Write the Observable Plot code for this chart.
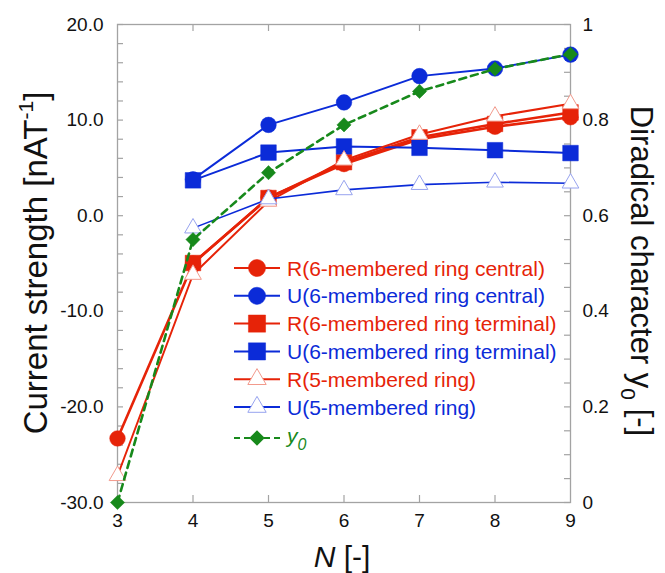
<!DOCTYPE html>
<html><head><meta charset="utf-8">
<script src="https://cdn.jsdelivr.net/npm/d3@7"></script>
<script src="https://cdn.jsdelivr.net/npm/@observablehq/plot@0.6"></script>
<style>body{margin:0;background:#fff}</style>
</head><body><div id="chart"></div>
<script>
// ---- data ----
const N = [3, 4, 5, 6, 7, 8, 9];
const R6central  = [-23.3, -5.0, 1.9, 5.4, 8.0, 9.3, 10.3];
const U6central  = [null, 3.8, 9.5, 11.85, 14.6, 15.4, 16.85];
const R6terminal = [null, -4.95, 1.85, 5.6, 8.2, 9.6, 10.8];
const U6terminal = [null, 3.7, 6.6, 7.25, 7.1, 6.85, 6.55];
const R5ring     = [-27.2, -6.15, 1.5, 5.8, 8.5, 10.4, 11.7];
const U5ring     = [null, -1.3, 1.75, 2.7, 3.25, 3.5, 3.4];
const y0values   = [0.0, 0.55, 0.69, 0.79, 0.86, 0.907, 0.938];
const leftTicks  = [-30, -20, -10, 0, 10, 20];
const rightTicks = [0, 0.2, 0.4, 0.6, 0.8, 1];
const xTicks     = [3, 4, 5, 6, 7, 8, 9];
const seriesNames = ["R(6-membered ring central)", "U(6-membered ring central)",
  "R(6-membered ring terminal)", "U(6-membered ring terminal)",
  "R(5-membered ring)", "U(5-membered ring)"];

// ---- style ----
const RED = "#e62308", BLUE = "#0b2bd8", GREEN = "#17891b";
const LRED = "#f29a8c", LBLUE = "#97a3ef", GRAY = "#a3a3a3";
const Y_MIN = -30, Y_MAX = 20;
const toLeft = v => Y_MIN + (Y_MAX - Y_MIN) * v;

const styles = [
  {values: R6central,  color: RED,  symbol: "circle",   r: 7.8, fill: RED,  mstroke: RED,  msw: 0.5, lw: 2.6},
  {values: U6central,  color: BLUE, symbol: "circle",   r: 7.8, fill: BLUE, mstroke: BLUE, msw: 0.5, lw: 2},
  {values: R6terminal, color: RED,  symbol: "square",   r: 8.8, fill: RED,  mstroke: RED,  msw: 0.5, lw: 2.6},
  {values: U6terminal, color: BLUE, symbol: "square",   r: 8.8, fill: BLUE, mstroke: BLUE, msw: 0.5, lw: 2},
  {values: R5ring,     color: RED,  symbol: "triangle", r: 6.2, fill: "white", mstroke: LRED,  msw: 1, lw: 2},
  {values: U5ring,     color: BLUE, symbol: "triangle", r: 6.2, fill: "white", mstroke: LBLUE, msw: 1, lw: 1.6}
];

const rowsOf = vals => N.map((n, i) => ({N: n, v: vals[i]})).filter(d => d.v != null);
const y0rows = N.map((n, i) => ({N: n, v: toLeft(y0values[i])}));

const W = 665, H = 573, ML = 117, MR = 95, MT = 24, MB = 71;
const PW = W - ML - MR, PH = H - MT - MB;
const TICKFONT = 19;

const marks = [
  Plot.frame({stroke: GRAY, strokeWidth: 1.3}),
  // inward ticks
  Plot.tickY(d3.range(-30, 20.01, 2), {stroke: GRAY, strokeWidth: 1.2, insetRight: PW - 6}),
  Plot.tickY(d3.range(-30, 20.01, 2.5), {stroke: GRAY, strokeWidth: 1.2, insetLeft: PW - 6}),
  Plot.tickX(xTicks.slice(1, -1), {stroke: GRAY, strokeWidth: 1.2, insetBottom: PH - 7}),
  Plot.tickX(xTicks.slice(1, -1), {stroke: GRAY, strokeWidth: 1.2, insetTop: PH - 7}),
  // tick labels
  Plot.text(leftTicks, {y: d => d, text: d => d.toFixed(1), frameAnchor: "left", dx: -14,
    textAnchor: "end", fontSize: TICKFONT, fill: "#111"}),
  Plot.text(rightTicks, {y: d => toLeft(d), text: d => String(d), frameAnchor: "right", dx: 12,
    textAnchor: "start", fontSize: TICKFONT, fill: "#111"}),
  Plot.text(xTicks, {x: d => d, text: d => String(d), frameAnchor: "bottom", dy: 11,
    lineAnchor: "top", fontSize: TICKFONT, fill: "#111"})
];
for (const s of styles) {
  const rows = rowsOf(s.values);
  marks.push(Plot.line(rows, {x: "N", y: "v", stroke: s.color, strokeWidth: s.lw}));
  marks.push(Plot.dot(rows, {x: "N", y: "v", symbol: s.symbol, r: s.r, fill: s.fill, stroke: s.mstroke, strokeWidth: s.msw}));
}
marks.push(Plot.line(y0rows, {x: "N", y: "v", stroke: GREEN, strokeWidth: 2.6, strokeDasharray: "7,5"}));
marks.push(Plot.dot(y0rows, {x: "N", y: "v", symbol: "diamond2", r: 6.4, fill: GREEN, stroke: GREEN, strokeWidth: 0.5}));

const svg = Plot.plot({
  width: W, height: H, marginLeft: ML, marginRight: MR, marginTop: MT, marginBottom: MB,
  x: {domain: [3, 9], axis: null},
  y: {domain: [Y_MIN, Y_MAX], axis: null},
  style: {fontFamily: "'Liberation Sans', Arial, Helvetica, sans-serif", color: "#111", background: "white", overflow: "visible"},
  marks
});
document.getElementById("chart").appendChild(svg);

// ---- axis titles ----
const sel = d3.select(svg);
const FONT = "'Liberation Sans', Arial, Helvetica, sans-serif";
const lt = sel.append("text").attr("transform", "translate(47,263) rotate(-90)")
  .attr("text-anchor", "middle").attr("font-family", FONT).attr("font-size", 33).attr("fill", "#111");
lt.append("tspan").text("Current strength [nAT");
lt.append("tspan").attr("font-size", 21).attr("dy", -14).text("-1");
lt.append("tspan").attr("dy", 14).text("]");

const rt = sel.append("text").attr("transform", "translate(631,271) rotate(90)")
  .attr("text-anchor", "middle").attr("font-family", FONT).attr("font-size", 31).attr("fill", "#111");
rt.append("tspan").text("Diradical character y");
rt.append("tspan").attr("font-size", 21).attr("dy", 10).text("0");
rt.append("tspan").attr("dy", -10).text(" [-]");

const xt = sel.append("text").attr("x", 342).attr("y", 567)
  .attr("text-anchor", "middle").attr("font-family", FONT).attr("font-size", 30).attr("fill", "#111");
xt.append("tspan").attr("font-style", "italic").text("N");
xt.append("tspan").text(" [-]");

// ---- legend ----
const symMap = {circle: d3.symbolCircle, square: d3.symbolSquare, triangle: d3.symbolTriangle, diamond2: d3.symbolDiamond2};
const lg = sel.append("g").attr("font-family", FONT).attr("font-size", 21).attr("text-anchor", "start");
const LX0 = 234, LX1 = 280, LMX = 257, LTX = 287, LY0 = 268, LDY = 27.8;
styles.forEach((s, i) => {
  const y = LY0 + i * LDY;
  lg.append("line").attr("x1", LX0).attr("x2", LX1).attr("y1", y).attr("y2", y)
    .attr("stroke", s.color).attr("stroke-width", 2);
  lg.append("path").attr("transform", `translate(${LMX},${y})`)
    .attr("d", d3.symbol(symMap[s.symbol], Math.PI * (s.r * 1.1) ** 2)())
    .attr("fill", s.fill).attr("stroke", s.mstroke).attr("stroke-width", s.msw);
  lg.append("text").attr("x", LTX).attr("y", y + 7.5).attr("fill", s.color).text(seriesNames[i]);
});
{
  const y = 438;
  lg.append("line").attr("x1", LX0).attr("x2", LX1).attr("y1", y).attr("y2", y)
    .attr("stroke", GREEN).attr("stroke-width", 2).attr("stroke-dasharray", "6,4");
  lg.append("path").attr("transform", `translate(${LMX},${y})`)
    .attr("d", d3.symbol(d3.symbolDiamond2, Math.PI * 7 ** 2)())
    .attr("fill", GREEN);
  const t = lg.append("text").attr("x", LTX).attr("y", y + 5).attr("fill", GREEN).attr("font-style", "italic");
  t.append("tspan").text("y");
  t.append("tspan").attr("font-size", 16).attr("dy", 7).text("0");
}
</script>
</body></html>
